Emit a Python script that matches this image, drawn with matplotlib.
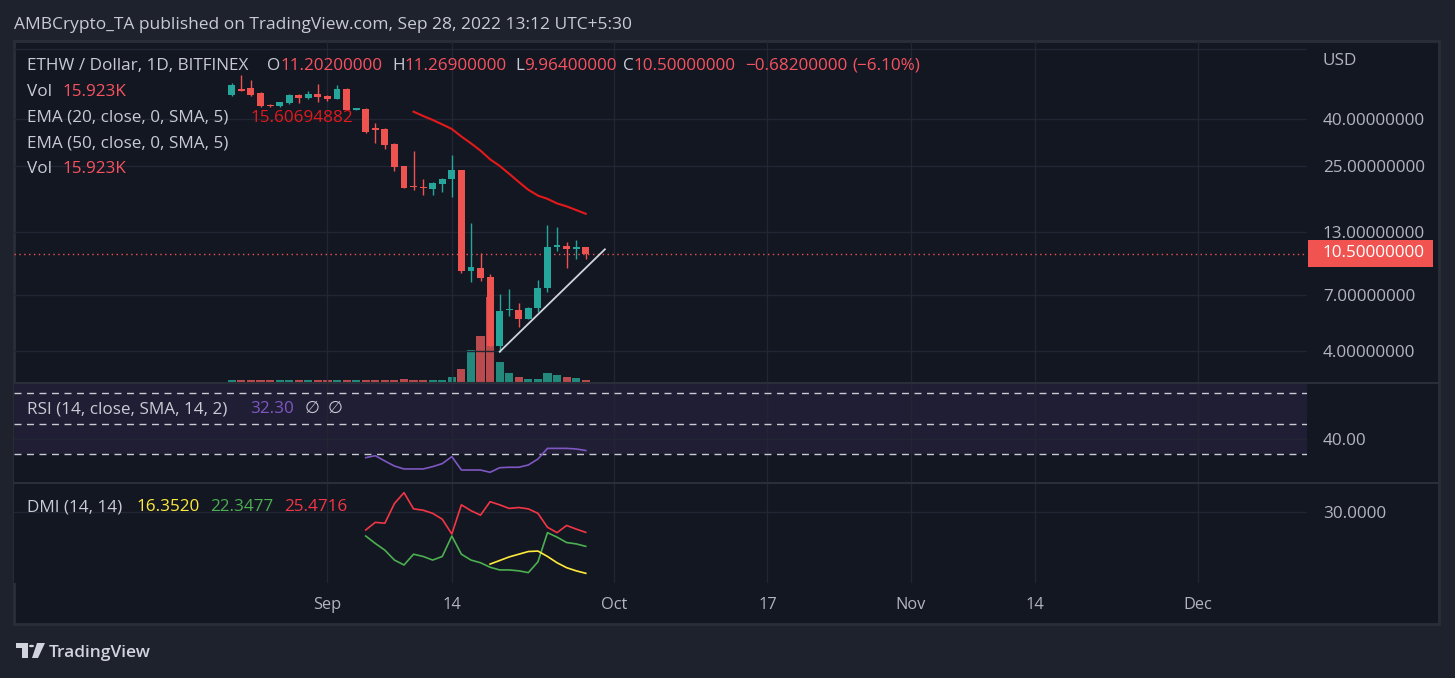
#!/usr/bin/env python3
# -*- coding: utf-8 -*-

"""
ETHW / Dollar daily candles (Bitfinex) with volume, EMA 20, RSI and DMI panes,
drawn in the TradingView dark theme and saved as out.png.
"""

import numpy as np
import pandas as pd
import matplotlib
matplotlib.use("Agg")
from matplotlib import pyplot as plt
import matplotlib.dates as mdates
from matplotlib.patches import Rectangle, Polygon, Circle
from matplotlib.text import Annotation
from matplotlib.transforms import blended_transform_factory

nan = np.nan

# Daily candles 22 Aug -> 28 Sep 2022
dates = pd.date_range("2022-08-22", periods=38, freq="D")
opens = [50.7, 53.7, 54.4, 51.6, 45.9, 45.6, 46.7, 50.7, 49.1, 51.3,
         50.2, 48.8, 53.7, 43.9, 44.0, 36.2, 36.2, 31.2, 25.1, 20.4,
         20.4, 20.0, 21.0, 22.0, 24.1, 8.88, 9.09, 8.31, 4.20, 6.00,
         6.01, 5.51, 6.11, 7.47, 11.2, 11.3, 11.0, 11.202]
highs = [57.0, 61.9, 58.9, 52.1, 46.3, 47.5, 51.1, 51.3, 52.8, 56.6,
         50.7, 56.0, 54.2, 44.3, 44.5, 38.3, 36.5, 31.4, 25.2, 29.1,
         22.0, 21.3, 22.2, 28.0, 24.2, 14.2, 10.6, 8.59, 7.04, 7.40,
         6.42, 6.17, 8.09, 14.0, 13.7, 11.8, 12.0, 11.269]
lows = [50.4, 52.8, 50.4, 45.2, 45.2, 45.2, 46.3, 46.7, 48.6, 47.5,
        48.0, 48.6, 43.7, 43.7, 34.7, 31.6, 29.6, 23.9, 20.1, 19.8,
        18.8, 18.8, 19.3, 18.5, 8.65, 7.96, 8.01, 4.18, 3.97, 5.66,
        5.09, 5.48, 5.91, 7.21, 10.8, 9.15, 10.0, 9.964]
closes = [56.0, 53.0, 50.7, 45.6, 45.6, 47.2, 50.7, 49.1, 51.3, 49.9,
          48.6, 53.7, 43.7, 44.1, 35.3, 36.0, 30.9, 24.9, 20.2, 20.3,
          20.1, 21.1, 22.0, 24.1, 8.88, 9.18, 8.23, 4.20, 5.97, 6.01,
          5.51, 6.15, 7.47, 11.2, 11.5, 11.0, 11.2, 10.5]
volume_k = [16, 17, 16, 17, 16, 15, 16, 17, 16, 16,
            17, 15, 16, 15, 17, 16, 16, 17, 26, 16,
            16, 15, 17, 40, 105, 255, 370, 680, 160, 72,
            40, 24, 24, 72, 56, 40, 32, 15.923]

ema20 = [nan] * 19 + [43.0, 41.2, 39.6, 37.9, 36.2, 33.6, 31.4, 29.2, 26.8, 25.1,
                      23.2, 21.4, 19.8, 18.7, 18.1, 17.3, 16.8, 16.2, 15.607]
rsi = [nan] * 14 + [27.6, 28.9, 25.4, 22.1, 20.2, 20.2, 20.2, 21.7, 23.7, 28.3,
                    19.5, 19.5, 19.5, 18.0, 21.0, 21.3, 21.3, 22.8, 26.7, 33.7,
                    33.7, 33.7, 33.3, 32.3]
dmi_minus = [nan] * 14 + [26.0, 27.7, 27.5, 31.9, 34.3, 30.7, 30.4, 29.7, 28.4, 25.1,
                          31.6, 30.3, 29.3, 32.3, 31.6, 30.8, 31.0, 30.7, 29.7, 26.6,
                          25.4, 27.0, 26.2, 25.47]
dmi_plus = [nan] * 14 + [24.65, 23.0, 21.5, 19.3, 18.2, 20.6, 20.1, 19.3, 20.1, 24.65,
                         20.6, 19.3, 18.7, 17.7, 17.1, 17.1, 16.9, 16.5, 18.9, 25.4,
                         24.4, 23.2, 22.9, 22.35]
adx = [nan] * 27 + [18.4, 19.2, 20.0, 20.6, 21.2, 21.3, 20.1, 18.7, 17.6, 16.9, 16.35]

# support line drawn on the chart
trend_dates = ["2022-09-19", "2022-09-30"]
trend_prices = [3.97, 10.97]
last_price = 10.5

price_ticks = [4, 7, 13, 25, 40]
xtick_dates = ["2022-09-01", "2022-09-14", "2022-10-01", "2022-10-17",
               "2022-11-01", "2022-11-14", "2022-12-01"]
xtick_labels = ["Sep", "14", "Oct", "17", "Nov", "14", "Dec"]

# ---------------------------------------------------------------------------

W, H = 1455, 678
BG_OUT = "#1e222d"
BG = "#131722"
BORDER = "#2a2e39"
GRID = "#222632"
TXT = "#b2b5be"
TXT_LEG = "#c8cbd3"
UP, DOWN = "#26a69a", "#ef5350"
VOL_UP, VOL_DOWN = "#23897c", "#b94a4d"
RED_TXT = "#f7525f"
EMA_RED = "#e3191b"
RSI_COL = "#7e57c2"
DMI_RED, DMI_GREEN, DMI_YELLOW = "#f23645", "#4caf50", "#ffeb3b"
FS = 12.3

plt.rcParams["font.family"] = ["Open Sans", "DejaVu Sans"]


def rect(x0, y0, x1, y1):
    """Axes rectangle from pixel coordinates (origin at top left)."""
    return [x0 / W, 1 - y1 / H, (x1 - x0) / W, (y1 - y0) / H]


def fpos(x, y):
    return x / W, 1 - y / H


def row(fig, y_base, groups, size=FS):
    """Write a legend row. groups = [(x, [(text, colour), ...]), ...]"""
    for x, parts in groups:
        text, colour = parts[0]
        t = fig.text(*fpos(x, y_base), text, color=colour, fontsize=size,
                     ha="left", va="baseline")
        for text, colour in parts[1:]:
            t = Annotation(text, xy=(1, 0), xycoords=t, xytext=(0, 0),
                           textcoords="offset points", ha="left", va="bottom",
                           color=colour, fontsize=size)
            fig.add_artist(t)


def style_pane(a, xlim):
    a.set_facecolor(BG)
    for s in a.spines.values():
        s.set_visible(False)
    a.set_xlim(*xlim)
    a.set_xticks(mdates.date2num(pd.to_datetime(xtick_dates)))
    a.tick_params(axis="x", length=0, labelbottom=False)
    a.yaxis.tick_right()
    a.tick_params(axis="y", length=0, labelsize=FS, labelcolor=TXT, pad=11.5)
    a.grid(True, color=GRID, lw=1)
    a.set_axisbelow(True)


xs = mdates.date2num(dates)
sep1 = mdates.date2num(pd.Timestamp("2022-09-01"))
xlim = (sep1 - 32.77, sep1 + 102.4)

o, h, l, c = (np.array(v, dtype=float) for v in (opens, highs, lows, closes))
up = c >= o
cols = np.where(up, UP, DOWN)
vcols = np.where(up, VOL_UP, VOL_DOWN)

fig = plt.figure(figsize=(W / 100, H / 100), dpi=100, facecolor=BG_OUT)

# chart frame
fig.patches.append(Rectangle(fpos(14, 624), (1439 - 14) / W, (624 - 41) / H,
                             transform=fig.transFigure, facecolor=BG,
                             edgecolor=BORDER, lw=2, zorder=-5))

# --- price pane with volume underneath -------------------------------------
ax = fig.add_axes(rect(14, 41, 1307, 382))
ax_vol = ax.twinx()
ax.set_zorder(ax_vol.get_zorder() + 1)
ax.patch.set_visible(False)
ax_vol.set_facecolor(BG)
for s in ax_vol.spines.values():
    s.set_visible(False)
ax_vol.set_yticks([])
ax_vol.bar(xs, volume_k, width=0.85, color=vcols)
ax_vol.set_ylim(0, 341 * 8)

style_pane(ax, xlim)
ax.patch.set_visible(False)
ax.set_yscale("log")
ax.set_ylim(2.94, 86.7)
ax.set_yticks(price_ticks)
ax.set_yticklabels(["{:.8f}".format(t) for t in price_ticks])
ax.yaxis.set_minor_locator(matplotlib.ticker.NullLocator())
ax.axhline(80, color=GRID, lw=1, zorder=0)

ax.vlines(xs, l, h, colors=cols, lw=1.0, zorder=3)
body_lo = np.minimum(o, c)
body_hi = np.maximum(np.maximum(o, c), body_lo * 1.012)
ax.bar(xs, body_hi - body_lo, bottom=body_lo, width=0.72, color=cols, zorder=4)
ax.plot(xs, ema20, color=EMA_RED, lw=1.5, zorder=5)
ax.plot(mdates.date2num(pd.to_datetime(trend_dates)), trend_prices,
        color="#d1d4dc", lw=1.3, zorder=6)
ax.axhline(last_price, color=DOWN, lw=1, ls=(0, (1, 2.5)), zorder=2)

# last price tag on the scale
fig.patches.append(Rectangle(fpos(1308, 267), 125 / W, 27 / H,
                             transform=fig.transFigure, facecolor="#f05350",
                             edgecolor="none", zorder=5))
fig.text(*fpos(1323, 253), "{:.8f}".format(last_price), color="white",
         fontsize=FS, ha="left", va="center", zorder=6)
fig.text(*fpos(1323, 61), "USD", color=TXT, fontsize=FS, ha="left", va="center")

# --- RSI pane ----------------------------------------------------------------
ax_rsi = fig.add_axes(rect(14, 383, 1307, 482))
style_pane(ax_rsi, xlim)
ax_rsi.set_ylim(11.64, 76.56)
ax_rsi.set_yticks([40])
ax_rsi.set_yticklabels(["40.00"])
ax_rsi.axhspan(30, 76.56, color=RSI_COL, alpha=0.12, lw=0, zorder=0)
for lev in (70, 50, 30):
    ax_rsi.axhline(lev, color="#c9cbd1", lw=1, ls=(0, (5, 4)), zorder=1)
ax_rsi.plot(xs, rsi, color=RSI_COL, lw=1.2, zorder=3)

# --- DMI pane ----------------------------------------------------------------
ax_dmi = fig.add_axes(rect(14, 483, 1307, 583))
style_pane(ax_dmi, xlim)
ax_dmi.set_ylim(14.19, 36.46)
ax_dmi.set_yticks([30])
ax_dmi.set_yticklabels(["30.0000"])
ax_dmi.plot(xs, dmi_minus, color=DMI_RED, lw=1.2)
ax_dmi.plot(xs, dmi_plus, color=DMI_GREEN, lw=1.2)
ax_dmi.plot(xs, adx, color=DMI_YELLOW, lw=1.2)

trans = blended_transform_factory(ax_dmi.transData, ax_dmi.transAxes)
for d, lab in zip(pd.to_datetime(xtick_dates), xtick_labels):
    ax_dmi.text(mdates.date2num(d), -0.22, lab, transform=trans, color=TXT,
                fontsize=11.8, ha="center", va="center", clip_on=False)

# pane separators
for yy in (382.5, 482.5):
    fig.add_artist(plt.Line2D([14 / W, 1439 / W], [1 - yy / H] * 2,
                              transform=fig.transFigure, color=BORDER, lw=1.5))

# --- texts -------------------------------------------------------------------
fig.text(*fpos(14, 29), "AMBCrypto_TA published on TradingView.com, Sep 28, 2022 13:12 UTC+5:30",
         color=TXT_LEG, fontsize=12.5, ha="left", va="baseline")

row(fig, 70, [(27, [("ETHW / Dollar, 1D, BITFINEX", TXT_LEG)]),
              (267, [("O", TXT_LEG), ("11.20200000", RED_TXT)]),
              (392, [("H", TXT_LEG), ("11.26900000", RED_TXT)]),
              (515, [("L", TXT_LEG), ("9.96400000", RED_TXT)]),
              (623, [("C", TXT_LEG), ("10.50000000", RED_TXT)]),
              (745, [("\u22120.68200000", RED_TXT)]),
              (852, [("(\u22126.10%)", RED_TXT)])])
row(fig, 96, [(27, [("Vol", TXT_LEG)]), (63, [("15.923K", RED_TXT)])])
row(fig, 122, [(27, [("EMA (20, close, 0, SMA, 5)", TXT_LEG)]),
               (250, [("15.60694882", EMA_RED)])])
row(fig, 148, [(27, [("EMA (50, close, 0, SMA, 5)", TXT_LEG)])])
row(fig, 173, [(27, [("Vol", TXT_LEG)]), (63, [("15.923K", RED_TXT)])])
row(fig, 413, [(27, [("RSI (14, close, SMA, 14, 2)", TXT_LEG)]),
               (250, [("32.30", RSI_COL)]),
               (305, [("\u2205", TXT_LEG)]),
               (328, [("\u2205", TXT_LEG)])])
row(fig, 511, [(27, [("DMI (14, 14)", TXT_LEG)]),
               (136, [("16.3520", DMI_YELLOW)]),
               (210, [("22.3477", DMI_GREEN)]),
               (284, [("25.4716", DMI_RED)])])

# TradingView logo at the bottom
logo_col = "#d1d4dc"
def px_poly(points):
    return Polygon([fpos(x, y) for x, y in points], closed=True,
                   transform=fig.transFigure, facecolor=logo_col, edgecolor="none")
fig.patches.append(px_poly([(16, 643), (28, 643), (28, 658), (22, 658), (22, 648), (16, 648)]))
fig.patches.append(Circle(fpos(31.5, 646), 2.6 / W, transform=fig.transFigure,
                          facecolor=logo_col, edgecolor="none"))
fig.patches.append(px_poly([(37, 643), (45, 643), (38, 658), (32, 658)]))
fig.text(*fpos(49, 657), "TradingView", color=logo_col, fontsize=12.5,
         fontweight="semibold", ha="left", va="baseline")

fig.savefig("out.png", dpi=100, facecolor=BG_OUT)
